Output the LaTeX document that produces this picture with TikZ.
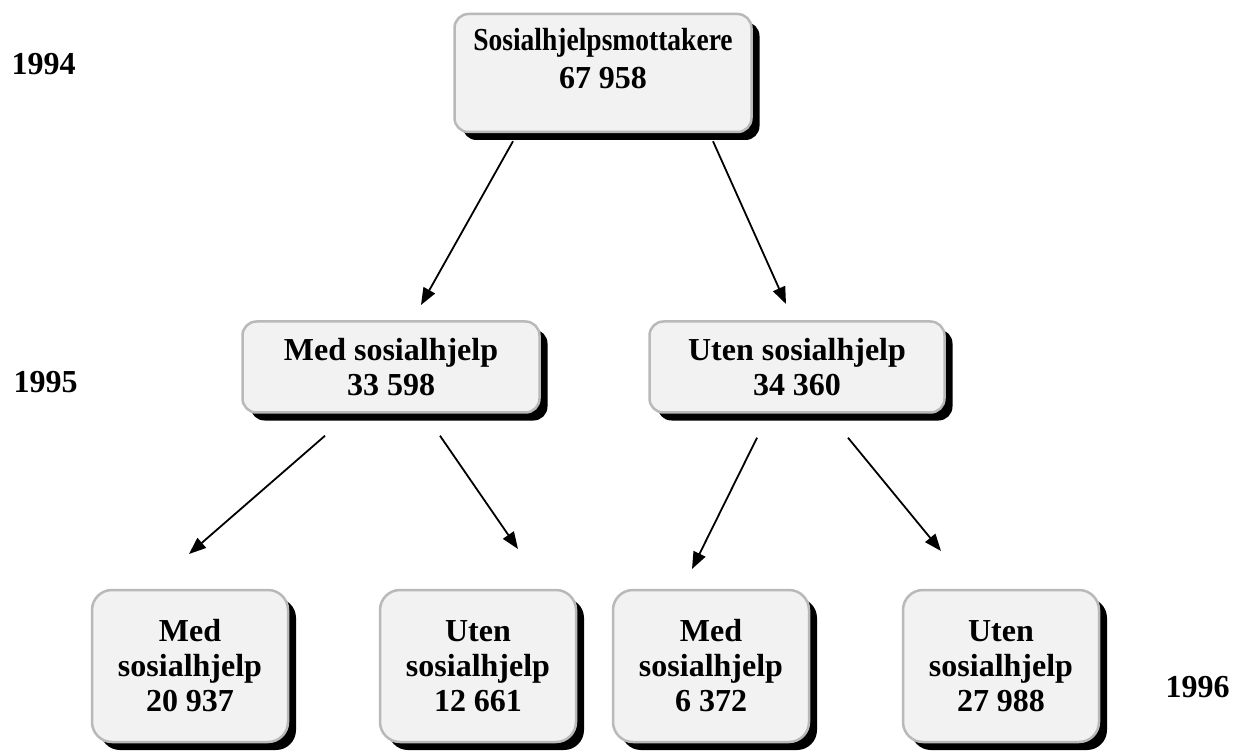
\documentclass[tikz,border=0pt]{standalone}
\usepackage{fontspec}
\setmainfont{Liberation Serif}
\usetikzlibrary{shadows, arrows.meta}

\begin{document}
\begin{tikzpicture}[x=1pt, y=-1pt,
    font=\fontsize{32}{35}\selectfont\bfseries,
    block/.style={rectangle, draw=gray!55, line width=2.5pt, fill=gray!10, rounded corners=14pt, align=center, inner sep=0pt,
        drop shadow={shadow xshift=8pt, shadow yshift=-8pt, fill=black, opacity=1}},
    small/.style={block, minimum width=196pt, minimum height=152pt, rounded corners=20pt},
    line/.style={draw, -{Triangle[length=17pt, width=13pt]}, line width=1.8pt},
    year/.style={anchor=base west}]
    \useasboundingbox (0,0) rectangle (1235,751);

    \node [block, minimum width=297pt, minimum height=118pt] (total) at (603,73) {};
    \node [align=center, inner sep=0pt] (totaltext) at ([yshift=14pt]total.center) {\scalebox{0.86}[1]{Sosialhjelpsmottakere}\\[3pt]67 958};
    \node [block, minimum width=297pt, minimum height=91pt] (med) at (391,367) {Med sosialhjelp\\33 598};
    \node [block, minimum width=295pt, minimum height=91pt] (uten) at (797,367) {Uten sosialhjelp\\34 360};

    \node [small] (medmed) at (190,666) {Med\\sosialhjelp\\20 937};
    \node [small] (meduten) at (478,666) {Uten\\sosialhjelp\\12 661};
    \node [small] (utenmed) at (711,666) {Med\\sosialhjelp\\6 372};
    \node [small] (utenuten) at (1001,666) {Uten\\sosialhjelp\\27 988};

    \node [year] (y94) at (8,75) {1994};
    \node [year] (y95) at (10,393) {1995};
    \node [year] (y96) at (1162,697) {1996};

    % arrow ends
    \coordinate (a1) at (421,305);
    \coordinate (a2) at (786,304);
    \coordinate (b1) at (189,554);
    \coordinate (b2) at (518,549);
    \coordinate (c1) at (692,569);
    \coordinate (c2) at (941,551);

    \path [line] ([xshift=-90pt, yshift=-8pt]total.south) -- (a1);
    \path [line] ([xshift=110pt, yshift=-8pt]total.south) -- (a2);
    \path [line] ([xshift=-66pt, yshift=-22pt]med.south) -- (b1);
    \path [line] ([xshift=49pt, yshift=-22pt]med.south) -- (b2);
    \path [line] ([xshift=-40pt, yshift=-24pt]uten.south) -- (c1);
    \path [line] ([xshift=51pt, yshift=-24pt]uten.south) -- (c2);
\end{tikzpicture}
\end{document}
